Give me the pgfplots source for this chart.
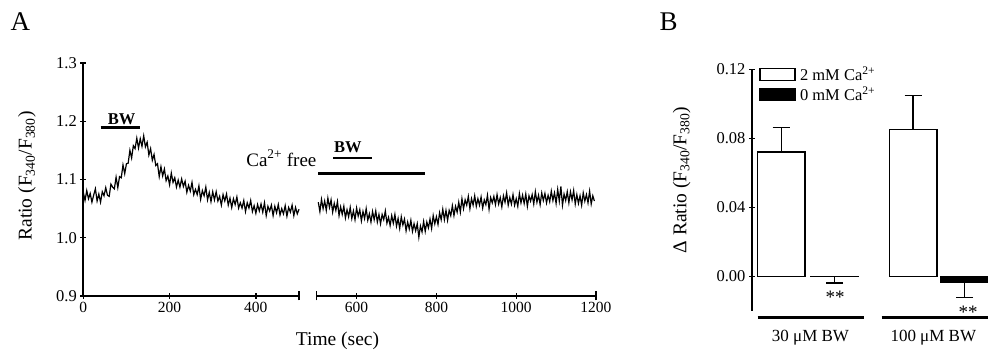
\documentclass[border=0pt]{standalone}
\usepackage{fontspec}
\setmainfont{Liberation Serif}
\usepackage{pgfplots}
\pgfplotsset{compat=1.18}
\newcommand{\fs}[1]{\fontsize{#1bp}{#1bp}\selectfont}
\pgfplotsset{
  myax/.style={
    scale only axis,
    tick style={line width=1.3bp, black},
    tick align=outside,
    major tick length=6bp,
    x tick label style={font=\fs{15.5}},
    y tick label style={font=\fs{16.5}},
    /pgf/number format/assume math mode=true,
    /pgf/number format/1000 sep={},
    clip=false,
  },
  noarrow/.style={axis line style={line width=1.6bp,-}},
}
\begin{document}
\begin{tikzpicture}
\useasboundingbox (0bp,0bp) rectangle (988bp,358bp);
% ---------------- Panel A, segment 1
\begin{axis}[myax, at={(83.3bp,62bp)}, anchor=south west,
  width=215.7bp, height=233bp,
  xmin=0, xmax=500, ymin=0.9, ymax=1.3,
  axis x line=bottom, axis y line=left, noarrow,
  xtick={0,200,400}, ytick={0.9,1.0,1.1,1.2,1.3},
  yticklabel style={/pgf/number format/.cd, fixed, fixed zerofill, precision=1},
  extra x ticks={500}, extra x tick labels={},
  extra x tick style={tick align=center, major tick length=9bp},
]
\addplot[black, line width=1.2bp] coordinates {
(0,1.078)(4,1.064)(8,1.081)(12,1.067)(16,1.076)(20,1.061)(24,1.073)(28,1.084)(32,1.063)(36,1.075)
(40,1.061)(44,1.079)(48,1.072)(52,1.086)(56,1.073)(60,1.071)(64,1.092)(68,1.087)(72,1.084)(76,1.104)
(80,1.086)(84,1.105)(88,1.103)(92,1.125)(96,1.110)(100,1.127)(104,1.128)(108,1.150)(112,1.137)(116,1.158)
(120,1.153)(124,1.171)(128,1.154)(132,1.170)(136,1.157)(140,1.175)(144,1.156)(148,1.164)(152,1.142)(156,1.153)
(160,1.133)(164,1.143)(168,1.124)(172,1.127)(176,1.105)(180,1.122)(184,1.106)(188,1.118)(192,1.098)(196,1.106)
(200,1.091)(204,1.111)(208,1.095)(212,1.103)(216,1.087)(220,1.099)(224,1.087)(228,1.101)(232,1.088)(236,1.097)
(240,1.078)(244,1.090)(248,1.080)(252,1.095)(256,1.074)(260,1.083)(264,1.074)(268,1.089)(272,1.066)(276,1.081)
(280,1.072)(284,1.087)(288,1.065)(292,1.078)(296,1.062)(300,1.079)(304,1.065)(308,1.079)(312,1.063)(316,1.071)
(320,1.056)(324,1.074)(328,1.063)(332,1.075)(336,1.056)(340,1.068)(344,1.052)(348,1.067)(352,1.057)(356,1.070)
(360,1.051)(364,1.060)(368,1.051)(372,1.064)(376,1.045)(380,1.060)(384,1.051)(388,1.064)(392,1.045)(396,1.055)
(400,1.042)(404,1.057)(408,1.046)(412,1.058)(416,1.044)(420,1.060)(424,1.038)(428,1.054)(432,1.046)(436,1.056)
(440,1.038)(444,1.054)(448,1.043)(452,1.057)(456,1.039)(460,1.050)(464,1.041)(468,1.055)(472,1.037)(476,1.052)
(480,1.044)(484,1.056)(488,1.038)(492,1.052)(496,1.041)(500,1.049)};
\addplot[black, line width=2.6bp] coordinates {(40,1.189)(131,1.189)};
\node[font=\bfseries\fs{16.5}, anchor=base] at (axis cs:89,1.195) {BW};
\end{axis}
% ---------------- Panel A, segment 2
\begin{axis}[myax, at={(316.7bp,62bp)}, anchor=south west,
  width=279.3bp, height=233bp,
  xmin=500, xmax=1200, ymin=0.9, ymax=1.3,
  axis x line=bottom, axis y line=none, noarrow,
  xtick={600,800,1000,1200},
  extra x ticks={500,1200}, extra x tick labels={},
  extra x tick style={tick align=center, major tick length=9bp},
]
\addplot[black, line width=1.2bp] coordinates {
(504,1.061)(508,1.045)(512,1.066)(516,1.050)(520,1.063)(524,1.047)(528,1.068)(532,1.052)(536,1.065)(540,1.044)
(544,1.059)(548,1.047)(552,1.062)(556,1.038)(560,1.053)(564,1.040)(568,1.054)(572,1.034)(576,1.048)(580,1.036)
(584,1.052)(588,1.033)(592,1.046)(596,1.031)(600,1.051)(604,1.037)(608,1.048)(612,1.029)(616,1.045)(620,1.033)
(624,1.050)(628,1.030)(632,1.041)(636,1.027)(640,1.045)(644,1.031)(648,1.046)(652,1.027)(656,1.040)(660,1.024)
(664,1.040)(668,1.031)(672,1.046)(676,1.025)(680,1.035)(684,1.021)(688,1.038)(692,1.025)(696,1.040)(700,1.020)
(704,1.033)(708,1.016)(712,1.036)(716,1.022)(720,1.032)(724,1.012)(728,1.027)(732,1.015)(736,1.030)(740,1.011)
(744,1.024)(748,1.012)(752,1.024)(756,1.001)(760,1.020)(764,1.010)(768,1.028)(772,1.011)(776,1.027)(780,1.017)
(784,1.032)(788,1.016)(792,1.038)(796,1.024)(800,1.036)(804,1.023)(808,1.043)(812,1.031)(816,1.049)(820,1.031)
(824,1.047)(828,1.030)(832,1.047)(836,1.038)(840,1.055)(844,1.038)(848,1.054)(852,1.044)(856,1.061)(860,1.044)
(864,1.067)(868,1.050)(872,1.065)(876,1.056)(880,1.071)(884,1.050)(888,1.067)(892,1.056)(896,1.072)(900,1.054)
(904,1.067)(908,1.056)(912,1.070)(916,1.051)(920,1.065)(924,1.057)(928,1.073)(932,1.049)(936,1.069)(940,1.060)
(944,1.071)(948,1.057)(952,1.074)(956,1.058)(960,1.069)(964,1.053)(968,1.072)(972,1.061)(976,1.077)(980,1.056)
(984,1.069)(988,1.058)(992,1.074)(996,1.056)(1000,1.067)(1004,1.054)(1008,1.076)(1012,1.060)(1016,1.073)(1020,1.059)
(1024,1.075)(1028,1.054)(1032,1.072)(1036,1.063)(1040,1.074)(1044,1.058)(1048,1.079)(1052,1.061)(1056,1.073)(1060,1.057)
(1064,1.077)(1068,1.064)(1072,1.076)(1076,1.060)(1080,1.073)(1084,1.062)(1088,1.080)(1092,1.064)(1096,1.077)(1100,1.059)
(1104,1.083)(1108,1.063)(1112,1.088)(1116,1.056)(1120,1.075)(1124,1.064)(1128,1.079)(1132,1.060)(1136,1.079)(1140,1.065)
(1144,1.081)(1148,1.058)(1152,1.074)(1156,1.059)(1160,1.072)(1164,1.056)(1168,1.077)(1172,1.063)(1176,1.074)(1180,1.060)
(1184,1.080)(1188,1.058)(1192,1.072)(1196,1.063)};
\addplot[black, line width=2.6bp] coordinates {(504,1.110)(772.5,1.110)};
\addplot[black, line width=2.6bp] coordinates {(541.5,1.137)(637.5,1.137)};
\node[font=\bfseries\fs{16.5}, anchor=base] at (axis cs:578,1.146) {BW};
\node[font=\fs{19}, anchor=base east] at (axis cs:508,1.123) {Ca\textsuperscript{2+} free};
\end{axis}
\node[font=\fs{19.5}, anchor=base] at (337.5bp,13bp) {Time (sec)};
\node[font=\fs{19.5}, rotate=90] at (27bp,182bp) {Ratio (F\textsubscript{340}/F\textsubscript{380})};
\node[font=\fs{27}, anchor=base west] at (7bp,327bp) {A};
% ---------------- Panel B
\begin{axis}[myax, at={(752bp,47.3bp)}, anchor=south west,
  width=236bp, height=241.4bp,
  xmin=0, xmax=236, ymin=-0.02, ymax=0.12,
  axis y line=left, axis x line=none, noarrow,
  ytick={0,0.04,0.08,0.12}, scaled y ticks=false,
  yticklabel style={/pgf/number format/.cd, fixed, fixed zerofill, precision=2},
  legend style={at={(axis cs:7,0.1222)}, anchor=north west, draw=none, fill=none,
    font=\fs{16.5}, inner sep=0pt, row sep=3bp,
    nodes={inner xsep=4.5bp, inner ysep=1bp}},
  legend cell align=left,
]
\addplot[ybar, bar shift=0, bar width=47.7, fill=white, draw=black, line width=1.3bp,
  legend image code/.code={\draw[fill=white,draw=black,line width=1.3bp] (0bp,-5.8bp) rectangle (35bp,5.8bp);},
  error bars/.cd, y dir=plus, y explicit,
  error bar style={line width=1.3bp, black},
  error mark options={rotate=90, line width=1.3bp, black, mark size=8.5bp}]
  coordinates {(29.2,0.0721) +- (0,0.0142) (161,0.0852) +- (0,0.0198)};
\addlegendentry{2 mM Ca\textsuperscript{2+}}
\addplot[ybar, bar shift=0, bar width=47.5, fill=black, draw=black, line width=1.3bp,
  legend image code/.code={\draw[fill=black,draw=black,line width=1.3bp] (0bp,-5.8bp) rectangle (35bp,5.8bp);},
  error bars/.cd, y dir=minus, y explicit,
  error bar style={line width=1.3bp, black},
  error mark options={rotate=90, line width=1.3bp, black, mark size=8.5bp}]
  coordinates {(82.5,-0.0003) +- (0,0.0036) (212.5,-0.0037) +- (0,0.0088)};
\addlegendentry{0 mM Ca\textsuperscript{2+}}
\addplot[black, line width=3bp, forget plot] coordinates {(5.7,-0.0238)(112,-0.0238)};
\addplot[black, line width=3bp, forget plot] coordinates {(129.7,-0.0238)(236,-0.0238)};
\node[font=\fs{19}, anchor=base] at (axis cs:83,-0.0158) {**};
\node[font=\fs{19}, anchor=base] at (axis cs:216,-0.0244) {**};
\node[font=\fs{17}, anchor=base] at (axis cs:58.5,-0.0378) {30 μM BW};
\node[font=\fs{17}, anchor=base] at (axis cs:181.3,-0.0378) {100 μM BW};
\end{axis}
\node[font=\fs{19.5}, rotate=90] at (681.7bp,178bp) {Δ Ratio (F\textsubscript{340}/F\textsubscript{380})};
\node[font=\fs{27}, anchor=base west] at (656bp,327bp) {B};
\end{tikzpicture}
\end{document}
